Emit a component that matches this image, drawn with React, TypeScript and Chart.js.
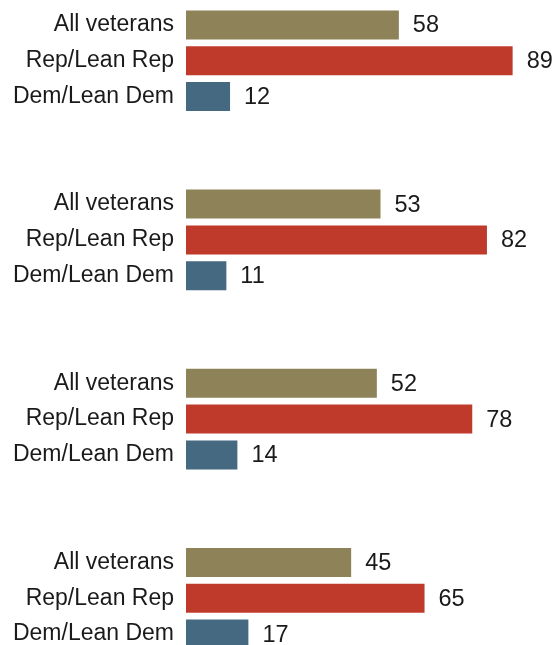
import React, { useEffect, useRef } from "react";
import { Chart, registerables } from "chart.js";

Chart.register(...registerables);

const groupLabels = ["All veterans", "Rep/Lean Rep", "Dem/Lean Dem"];
const group1 = [58, 89, 12];
const group2 = [53, 82, 11];
const group3 = [52, 78, 14];
const group4 = [45, 65, 17];
const groupColors = ["#8e8259", "#bf3a2b", "#466982"];

const groups = [group1, group2, group3, group4];

const labels: string[] = [];
const values: (number | null)[] = [];
const colors: string[] = [];
groups.forEach((g, gi) => {
  g.forEach((v, i) => {
    labels.push(groupLabels[i]);
    values.push(v);
    colors.push(groupColors[i]);
  });
  if (gi < groups.length - 1) {
    labels.push("", "");
    values.push(null, null);
    colors.push("rgba(0,0,0,0)", "rgba(0,0,0,0)");
  }
});

const FONT = "'Liberation Sans', Arial, sans-serif";

const valueLabelPlugin = {
  id: "valueLabels",
  afterDatasetsDraw(chart: any) {
    const ctx = chart.ctx;
    const meta = chart.getDatasetMeta(0);
    ctx.save();
    ctx.font = `23.5px ${FONT}`;
    ctx.fillStyle = "#1a1a1a";
    ctx.textAlign = "left";
    ctx.textBaseline = "middle";
    meta.data.forEach((el: any, i: number) => {
      const v = values[i];
      if (v === null || v === undefined) return;
      ctx.fillText(String(v), el.x + 14, el.y + 1);
    });
    ctx.restore();
  },
};

export default function App() {
  const ref = useRef<HTMLCanvasElement | null>(null);
  useEffect(() => {
    document.body.style.margin = "0";
    document.body.style.overflow = "hidden";
    if (!ref.current) return;
    const chart = new Chart(ref.current, {
      type: "bar",
      data: {
        labels,
        datasets: [
          {
            data: values,
            backgroundColor: colors,
            barPercentage: 0.81,
            categoryPercentage: 1.0,
          },
        ],
      },
      options: {
        indexAxis: "y",
        animation: false,
        responsive: true,
        maintainAspectRatio: false,
        layout: { padding: { top: 7, bottom: 0, left: 0, right: 2 } },
        plugins: {
          legend: { display: false },
          tooltip: { enabled: false },
        },
        scales: {
          x: {
            display: false,
            min: 0,
            max: 100,
          },
          y: {
            grid: { display: false, drawTicks: false },
            border: { display: false },
            ticks: {
              autoSkip: false,
              padding: 12,
              color: "#1a1a1a",
              font: { family: FONT, size: 23 },
            },
            afterFit(scale: any) {
              scale.width = 186;
              scale.paddingTop = 0;
              scale.paddingBottom = 0;
            },
          },
        },
      },
      plugins: [valueLabelPlugin],
    });
    return () => chart.destroy();
  }, []);

  return (
    <div style={{ position: "fixed", left: 0, top: 0, width: 555, height: 645, overflow: "hidden", background: "#fff" }}>
      <div style={{ position: "relative", width: 555, height: 652 }}>
        <canvas ref={ref} />
      </div>
    </div>
  );
}
